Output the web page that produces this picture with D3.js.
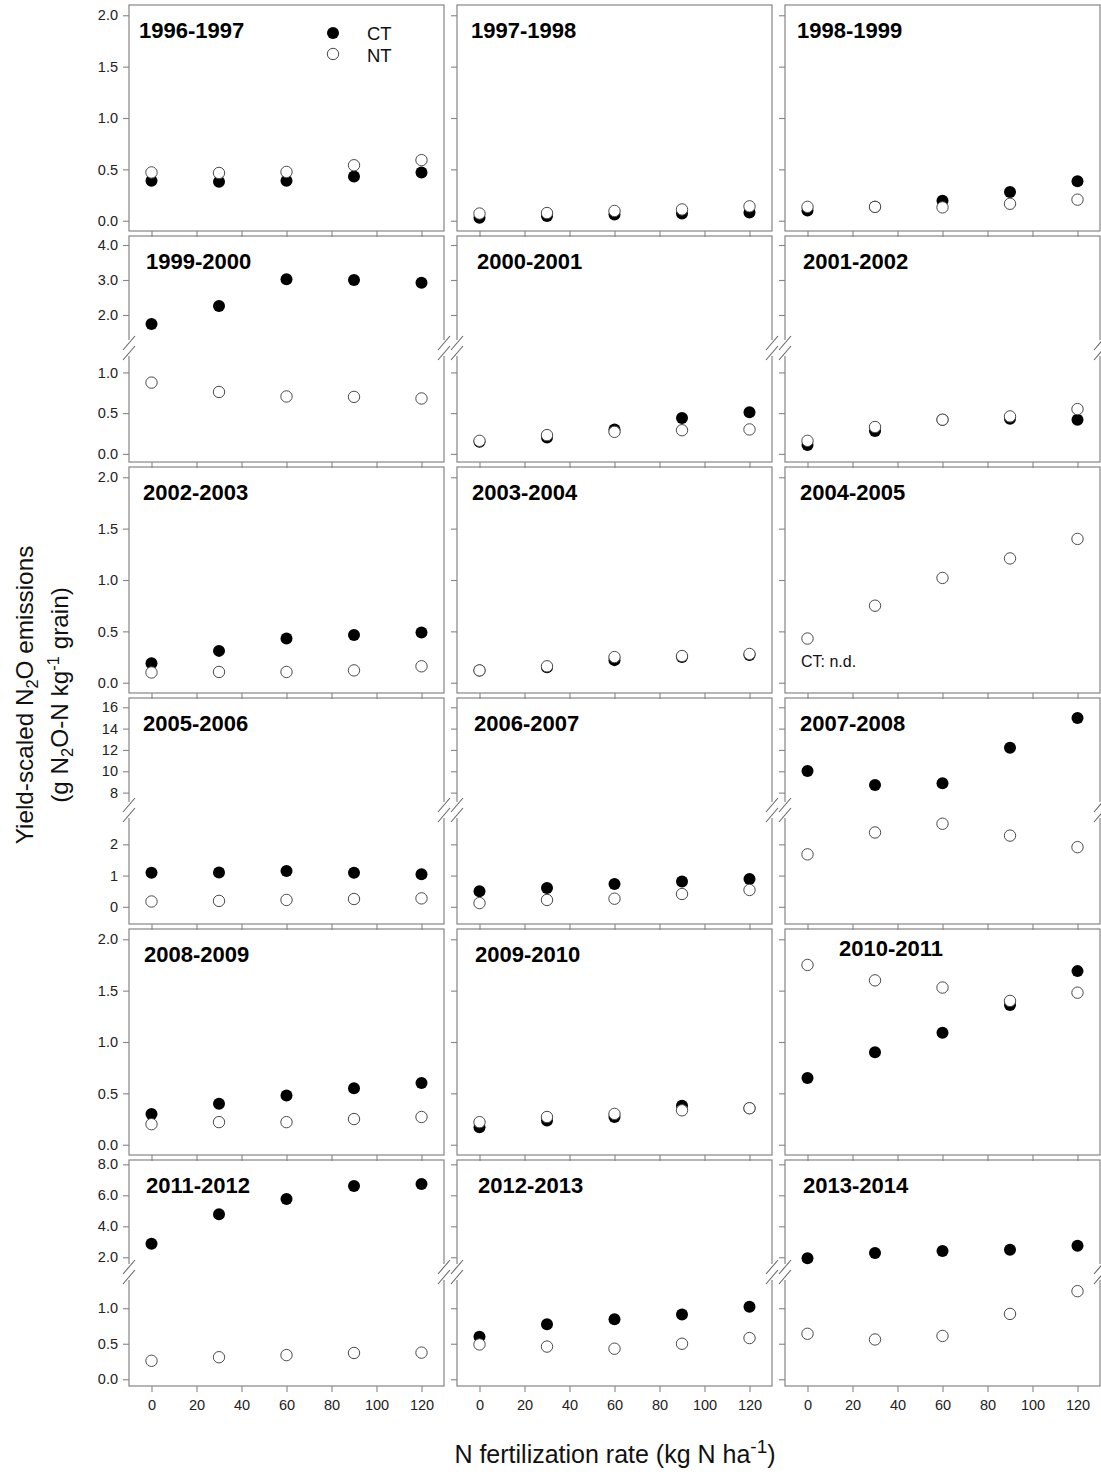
<!DOCTYPE html>
<html>
<head>
<meta charset="utf-8">
<script src="https://cdn.jsdelivr.net/npm/d3@7"></script>
<style>
  body { margin: 0; background: #fff; }
  text { font-family: "Liberation Sans", Arial, Helvetica, sans-serif; }
</style>
</head>
<body>
<svg id="chart" width="1101" height="1474"></svg>
<script>
// ---- data -------------------------------------------------------------
const seasons = [
  "1996-1997", "1997-1998", "1998-1999",
  "1999-2000", "2000-2001", "2001-2002",
  "2002-2003", "2003-2004", "2004-2005",
  "2005-2006", "2006-2007", "2007-2008",
  "2008-2009", "2009-2010", "2010-2011",
  "2011-2012", "2012-2013", "2013-2014"
];
const rates = [0, 30, 60, 90, 120];           // kg N ha-1

// Yield-scaled N2O emissions, conventional tillage (null = not determined)
const ctValues = [
  [0.39, 0.38, 0.39, 0.43, 0.47],
  [0.03, 0.045, 0.06, 0.07, 0.08],
  [0.10, 0.135, 0.195, 0.28, 0.385],
  [1.74, 2.26, 3.02, 3.00, 2.92],
  [0.15, 0.20, 0.30, 0.44, 0.51],
  [0.11, 0.28, 0.42, 0.43, 0.42],
  [0.19, 0.31, 0.43, 0.465, 0.49],
  [0.12, 0.15, 0.22, 0.25, 0.27],
  null,
  [1.09, 1.10, 1.15, 1.09, 1.04],
  [0.50, 0.60, 0.73, 0.81, 0.89],
  [10.03, 8.72, 8.88, 12.2, 15.0],
  [0.30, 0.40, 0.48, 0.55, 0.60],
  [0.17, 0.235, 0.27, 0.38, 0.355],
  [0.65, 0.90, 1.09, 1.36, 1.69],
  [2.88, 4.78, 5.76, 6.60, 6.73],
  [0.60, 0.775, 0.845, 0.91, 1.02],
  [1.94, 2.28, 2.41, 2.49, 2.75]
];

// Yield-scaled N2O emissions, no tillage
const ntValues = [
  [0.47, 0.465, 0.475, 0.54, 0.59],
  [0.07, 0.075, 0.095, 0.11, 0.14],
  [0.135, 0.135, 0.13, 0.165, 0.205],
  [0.875, 0.76, 0.705, 0.70, 0.68],
  [0.16, 0.23, 0.27, 0.29, 0.30],
  [0.16, 0.33, 0.42, 0.46, 0.55],
  [0.10, 0.105, 0.105, 0.12, 0.16],
  [0.12, 0.16, 0.25, 0.26, 0.28],
  [0.43, 0.75, 1.02, 1.21, 1.40],
  [0.17, 0.19, 0.22, 0.25, 0.27],
  [0.12, 0.22, 0.26, 0.41, 0.54],
  [1.68, 2.38, 2.66, 2.28, 1.91],
  [0.20, 0.22, 0.22, 0.25, 0.27],
  [0.22, 0.27, 0.30, 0.335, 0.355],
  [1.75, 1.60, 1.53, 1.40, 1.48],
  [0.26, 0.31, 0.34, 0.37, 0.375],
  [0.49, 0.46, 0.43, 0.50, 0.58],
  [0.64, 0.56, 0.61, 0.92, 1.24]
];

const xTicks = [0, 20, 40, 60, 80, 100, 120];
// y ticks of each panel row (upper segment / lower segment of a broken axis)
const rowTicksUpper = [[0, 0.5, 1, 1.5, 2], [2, 3, 4], [0, 0.5, 1, 1.5, 2],
                       [8, 10, 12, 14, 16], [0, 0.5, 1, 1.5, 2], [2, 4, 6, 8]];
const rowTicksLower = [null, [0, 0.5, 1], null, [0, 1, 2], null, [0, 0.5, 1]];
const rowTickFormat = [".1f", ".1f", ".1f", "d", ".1f", ".1f"];

// ---- layout -----------------------------------------------------------
const colLeft = [129, 457, 785];
const rowTop = [5, 236, 467, 698, 929, 1160];
const panelW = 315, panelH = 226;
const breakY = 112;               // vertical position of the axis break
// value extents of each row; broken rows have an upper and lower segment
const rowAxes = [
  { full: [-0.1, 2.1] },
  { upper: [1.057, 4.257], lower: [-0.1, 1.3], split: 1.2 },
  { full: [-0.1, 2.1] },
  { upper: [6.37, 16.87], lower: [-0.55, 3.1], split: 5 },
  { full: [-0.1, 2.1] },
  { upper: [1.05, 8.28], lower: [-0.095, 1.51], split: 1.5 }
];
const titleOffsetX = [10, 14, 12, 17, 20, 18, 14, 15, 15, 14, 17, 15, 15, 18, 54, 17, 21, 18];

const frameColor = "#858585";
const svg = d3.select("#chart");
svg.append("rect").attr("width", 1101).attr("height", 1474).attr("fill", "#fff");

const x = d3.scaleLinear().domain([-10, 130]).range([0, panelW]);

function styleAxis(sel) {
  sel.select(".domain").remove();
  sel.selectAll(".tick line").attr("stroke", frameColor).attr("stroke-width", 1.1);
  sel.selectAll(".tick text")
    .attr("fill", "#222")
    .attr("font-size", 14.5)
    .style("font-family", '"Liberation Sans", Arial, sans-serif');
}

seasons.forEach((season, i) => {
  const row = Math.floor(i / 3), col = i % 3;
  const cfg = rowAxes[row];
  const g = svg.append("g").attr("transform", `translate(${colLeft[col]},${rowTop[row]})`);
  const fmt = col === 0 ? d3.format(rowTickFormat[row]) : () => "";

  let yOf;
  if (cfg.full) {
    const y = d3.scaleLinear().domain(cfg.full).range([panelH, 0]);
    g.append("g").call(d3.axisLeft(y).tickValues(rowTicksUpper[row])
      .tickSize(6).tickPadding(5).tickFormat(fmt)).call(styleAxis);
    yOf = v => y(v);
  } else {
    const yU = d3.scaleLinear().domain(cfg.upper).range([breakY, 0]);
    const yL = d3.scaleLinear().domain(cfg.lower).range([panelH, breakY]);
    g.append("g").call(d3.axisLeft(yU).tickValues(rowTicksUpper[row])
      .tickSize(6).tickPadding(5).tickFormat(fmt)).call(styleAxis);
    g.append("g").call(d3.axisLeft(yL).tickValues(rowTicksLower[row])
      .tickSize(6).tickPadding(5).tickFormat(fmt)).call(styleAxis);
    yOf = v => (v >= cfg.split ? yU(v) : yL(v));
  }

  // x axis (labels on the bottom row only)
  g.append("g").attr("transform", `translate(0,${panelH})`)
    .call(d3.axisBottom(x).tickValues(xTicks).tickSize(6).tickPadding(8)
      .tickFormat(row === 5 ? d3.format("d") : () => ""))
    .call(styleAxis);

  // panel frame
  g.append("rect").attr("width", panelW).attr("height", panelH)
    .attr("fill", "none").attr("stroke", frameColor).attr("stroke-width", 1.2);

  // axis break marks on both vertical edges
  if (!cfg.full) {
    [0, panelW].forEach(ex => {
      g.append("rect").attr("x", ex - 2).attr("y", breakY - 8)
        .attr("width", 4).attr("height", 16).attr("fill", "#fff");
      [-5, 5].forEach(off => {
        g.append("line")
          .attr("x1", ex - 6).attr("y1", breakY + off + 7)
          .attr("x2", ex + 6).attr("y2", breakY + off - 7)
          .attr("stroke", "#666").attr("stroke-width", 1.1);
      });
    });
  }

  // CT (filled) then NT (open) markers
  if (ctValues[i]) {
    g.selectAll("circle.ct").data(ctValues[i]).join("circle")
      .attr("class", "ct")
      .attr("cx", (d, k) => x(rates[k])).attr("cy", d => yOf(d))
      .attr("r", 6).attr("fill", "#000");
  }
  g.selectAll("circle.nt").data(ntValues[i]).join("circle")
    .attr("class", "nt")
    .attr("cx", (d, k) => x(rates[k])).attr("cy", d => yOf(d))
    .attr("r", 5.7).attr("fill", "#fff").attr("stroke", "#4a4a4a").attr("stroke-width", 1);

  // season title
  const special = season === "2010-2011";
  g.append("text")
    .attr("x", titleOffsetX[i]).attr("y", special ? 27 : 33)
    .attr("font-size", 22).attr("font-weight", "bold").attr("fill", "#000")
    .text(season);

  if (i === 0) {
    // legend
    const lg = g.append("g");
    lg.append("circle").attr("cx", 204).attr("cy", 28).attr("r", 6).attr("fill", "#000");
    lg.append("circle").attr("cx", 204).attr("cy", 49).attr("r", 5.7)
      .attr("fill", "#fff").attr("stroke", "#4a4a4a").attr("stroke-width", 1);
    lg.append("text").attr("x", 238).attr("y", 35).attr("font-size", 18.5).attr("fill", "#111").text("CT");
    lg.append("text").attr("x", 238).attr("y", 56.5).attr("font-size", 18.5).attr("fill", "#111").text("NT");
  }
  if (!ctValues[i]) {
    g.append("text").attr("x", 16).attr("y", 200)
      .attr("font-size", 16).attr("fill", "#111").text("CT: n.d.");
  }
});

// y axis title (two lines)
const yt1 = svg.append("text")
  .attr("transform", "translate(33,695) rotate(-90)")
  .attr("text-anchor", "middle").attr("font-size", 24.3).attr("fill", "#111");
yt1.append("tspan").text("Yield-scaled N");
yt1.append("tspan").attr("font-size", 16.5).attr("dy", 5).text("2");
yt1.append("tspan").attr("dy", -5).text("O emissions");

const yt2 = svg.append("text")
  .attr("transform", "translate(68,695) rotate(-90)")
  .attr("text-anchor", "middle").attr("font-size", 24.3).attr("fill", "#111");
yt2.append("tspan").text("(g N");
yt2.append("tspan").attr("font-size", 16.5).attr("dy", 5).text("2");
yt2.append("tspan").attr("dy", -5).text("O-N kg");
yt2.append("tspan").attr("font-size", 16.5).attr("dy", -9).text("-1");
yt2.append("tspan").attr("dy", 9).text("  grain)");

// x axis title
const xt = svg.append("text")
  .attr("x", 615).attr("y", 1463)
  .attr("text-anchor", "middle").attr("font-size", 25).attr("fill", "#111");
xt.append("tspan").text("N fertilization rate (kg N ha");
xt.append("tspan").attr("font-size", 19).attr("dy", -10).text("-1");
xt.append("tspan").attr("dy", 10).text(")");
</script>
</body>
</html>
